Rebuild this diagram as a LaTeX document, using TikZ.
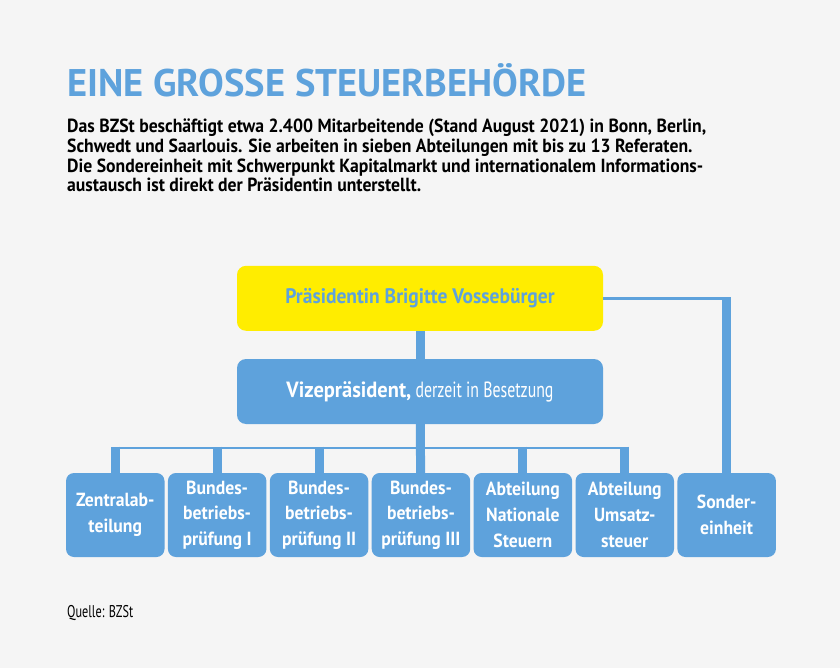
\documentclass[tikz,border=0pt]{standalone}
\usepackage{fontspec}
\setmainfont{PT Sans}[FakeStretch=0.72, BoldFeatures={FakeStretch=0.93}]
\newfontfamily\titlefont{PT Sans}[FakeStretch=1.0]
\usetikzlibrary{positioning}
\definecolor{bzblue}{RGB}{94,162,220}
\definecolor{bzyellow}{RGB}{255,237,0}
\definecolor{bggray}{RGB}{245,245,245}
\tikzset{
    %Boxes of the organisation chart
    head/.style={rounded corners=9pt, minimum width=366pt, minimum height=65pt, inner sep=0pt},
    unit/.style={fill=bzblue, rounded corners=8pt, minimum width=98.5pt, minimum height=84pt, inner sep=0pt, text=white, align=center, font=\bfseries\fontsize{19}{25.7}\selectfont},
    %Connectors
    stub/.style={draw=bzblue, line width=9pt},
    thinlink/.style={draw=bzblue, line width=2.7pt}
}

\begin{document}
\begin{tikzpicture}[x=1pt, y=-1pt]

	\fill[bggray] (0,0) rectangle (840,668);
	\useasboundingbox (0,0) rectangle (840,668);

	\node (title) at (67,97) [anchor=base west, inner sep=0pt, text=bzblue, font=\titlefont\bfseries\fontsize{38.5}{40}\selectfont] {EINE GROSSE STEUERBEHÖRDE};
	\node (intro) at (67,119) [anchor=north west, inner sep=0pt, align=left, font=\bfseries\fontsize{19}{19.7}\selectfont] {Das BZSt beschäftigt etwa 2.400 Mitarbeitende (Stand August 2021) in Bonn, Berlin,\\ Schwedt und Saarlouis. Sie arbeiten in sieben Abteilungen mit bis zu 13 Referaten.\\ Die Sondereinheit mit Schwerpunkt Kapitalmarkt und internationalem Informations-\\ austausch ist direkt der Präsidentin unterstellt.};

	\node (praes) at (420,298.3) [head, fill=bzyellow, text=bzblue, font=\bfseries\fontsize{21}{26}\selectfont] {Präsidentin Brigitte Vossebürger};
	\node (vize) at (420,391.5) [head, fill=bzblue, text=white, font=\fontsize{22}{26}\selectfont] {\textbf{Vizepräsident,} derzeit in Besetzung};

	\node (zentral) at (115.25,515) [unit] {Zentralab-\\teilung};
	\node (bbp1) [unit, right=3pt of zentral] {Bundes-\\betriebs-\\prüfung I};
	\node (bbp2) [unit, right=3pt of bbp1] {Bundes-\\betriebs-\\prüfung II};
	\node (bbp3) [unit, right=3pt of bbp2] {Bundes-\\betriebs-\\prüfung III};
	\node (nat) [unit, right=3pt of bbp3] {Abteilung\\Nationale\\Steuern};
	\node (ust) [unit, right=3pt of nat] {Abteilung\\Umsatz-\\steuer};
	\node (sonder) [unit, right=3pt of ust] {Sonder-\\einheit};

	\coordinate (bus) at (420,448);
	\coordinate (sonderknee) at (praes.east -| sonder.north);

	\draw[stub] (praes) -- (vize);
	\draw[stub] (vize) -- (bbp3);
	\draw[thinlink] (zentral.north |- bus) -- (ust.north |- bus);
	\foreach \n in {zentral,bbp1,bbp2,nat,ust}
		\draw[stub] ([yshift=1.3pt]\n.north |- bus) -- (\n.north);
	\draw[thinlink] (praes.east) -- (sonderknee);
	\draw[stub] ([yshift=1.3pt]sonderknee) -- (sonder.north);

	\node (source) at (67,617) [anchor=base west, inner sep=0pt, font=\fontsize{17}{20}\selectfont] {Quelle: BZSt};

\end{tikzpicture}
\end{document}
